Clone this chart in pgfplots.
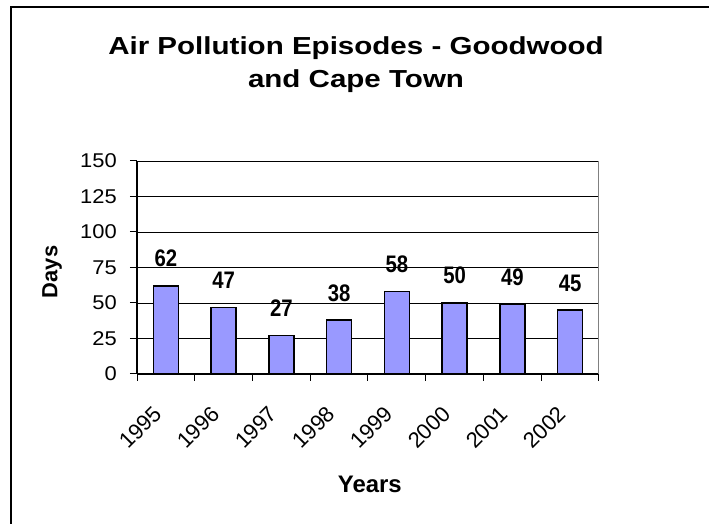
\documentclass[border=0pt]{standalone}
\usepackage{fontspec}
\setmainfont{Liberation Sans}
\newfontfamily\titlefont[FakeStretch=1.2]{Liberation Sans}
\newfontfamily\labelfont[FakeStretch=0.85]{Liberation Sans}
\newfontfamily\tickfont[FakeStretch=1.1]{Liberation Sans}
\usepackage{pgfplots}
\pgfplotsset{compat=1.18}
\definecolor{barblue}{HTML}{9999FF}
\begin{document}
\begin{tikzpicture}
\draw[line width=2bp] (11bp,0bp) -- (11bp,517bp) -- (709bp,517bp);
\node[font=\titlefont\bfseries\fontsize{24.7}{24.7}\selectfont, anchor=base] at (356bp,469bp) {Air Pollution Episodes - Goodwood};
\node[font=\titlefont\bfseries\fontsize{24.7}{24.7}\selectfont, anchor=base] at (356bp,436bp) {and Cape Town};
\begin{axis}[
  at={(137bp,150bp)}, anchor=south west,
  width=462bp, height=213bp, scale only axis,
  xmin=-0.5, xmax=7.5, ymin=0, ymax=150,
  ytick={0,25,...,150},
  xtick={0,...,7},
  xticklabels={1995,1996,1997,1998,1999,2000,2001,2002},
  minor xtick={-0.5,0.5,...,7.5},
  tick align=outside,
  major x tick style={draw=none},
  major tick length=7bp, minor tick length=7bp,
  tick style={black, line width=1bp},
  axis x line*=bottom, axis y line*=left,
  axis line style={black, line width=1.2bp, -},
  ymajorgrids, grid style={black, line width=0.8bp},
  /pgf/number format/assume math mode=true,
  yticklabel style={font=\tickfont\fontsize{20}{20}\selectfont, inner sep=0pt, xshift=-13bp},
  xticklabel style={font=\fontsize{22}{22}\selectfont, inner sep=0pt, xshift=-8bp, yshift=-29bp, rotate=45, anchor=east},
  xlabel={Years},
  xlabel style={font=\bfseries\fontsize{24}{24}\selectfont, at={(axis description cs:0.504,-0.554)}, anchor=base, inner sep=0pt},
  ylabel={Days},
  ylabel style={font=\bfseries\fontsize{22}{22}\selectfont, at={(axis description cs:-0.184,0.479)}, anchor=center, rotate=0, inner sep=0pt},
  ybar, bar width=25bp,
  nodes near coords,
  every node near coord/.append style={font=\labelfont\bfseries\fontsize{24}{24}\selectfont, anchor=base, inner sep=0pt, yshift=19bp, black},
  clip=false,
]
\addplot[fill=barblue, draw=black, line width=1.3bp] coordinates {(0,62) (1,47) (2,27) (3,38) (4,58) (5,50) (6,49) (7,45)};
\draw[gray, line width=1bp] (rel axis cs:1,0) -- (rel axis cs:1,1);
\end{axis}
\pgfresetboundingbox
\path (0bp,0bp) rectangle (709bp,524bp);
\end{tikzpicture}
\end{document}
